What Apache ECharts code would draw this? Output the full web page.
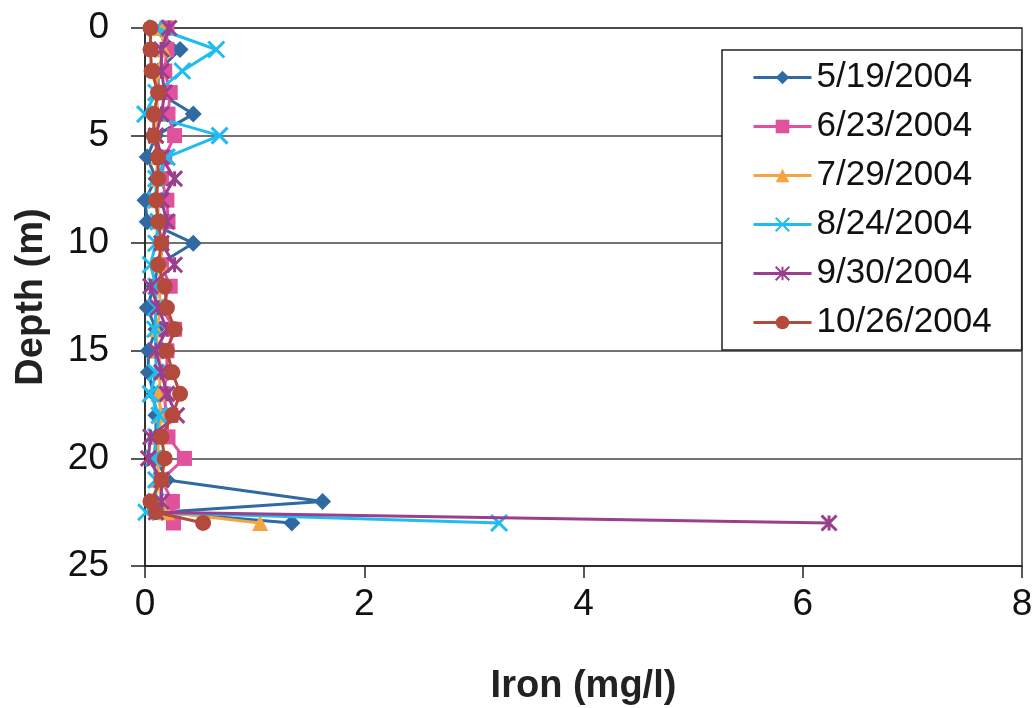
<!DOCTYPE html>
<html><head><meta charset="utf-8">
<script src="https://cdn.jsdelivr.net/npm/echarts@6/dist/echarts.min.js"></script>
<style>html,body{margin:0;padding:0;background:#fff}#c{width:1036px;height:708px}</style>
</head><body><div id="c"></div>
<script>
const depths = [0,1,2,3,4,5,6,7,8,9,10,11,12,13,14,15,16,17,18,19,20,21,22,22.5,23];
const seriesNames = ['5/19/2004','6/23/2004','7/29/2004','8/24/2004','9/30/2004','10/26/2004'];
const iron0519 = [0.05,0.32,0.12,0.12,0.44,0.1,0.02,0.1,0.0,0.02,0.44,0.12,0.08,0.02,0.1,0.03,0.03,0.08,0.1,0.1,0.1,0.2,1.62,0.15,1.34];
const iron0623 = [0.2,0.2,0.18,0.23,0.21,0.27,0.18,0.15,0.2,0.21,0.15,0.15,0.23,0.15,0.27,0.2,0.2,0.17,0.2,0.21,0.36,0.15,0.25,0.22,0.26];
const iron0729 = [0.15,0.17,0.12,0.1,0.12,0.1,0.12,0.1,0.12,0.12,0.15,0.15,0.12,0.15,0.1,0.12,0.15,0.12,0.15,0.12,0.12,0.12,0.15,0.2,1.05];
const iron0824 = [0.1,0.65,0.34,0.1,0.0,0.68,0.2,0.1,0.1,0.12,0.1,0.05,0.1,0.1,0.09,0.1,0.1,0.05,0.13,0.1,0.08,0.1,0.1,0.01,3.23];
const iron0930 = [0.22,0.15,0.15,0.18,0.15,0.1,0.15,0.27,0.15,0.2,0.15,0.27,0.05,0.12,0.2,0.1,0.15,0.2,0.29,0.05,0.03,0.15,0.15,0.1,6.24];
const iron1026 = [0.05,0.05,0.06,0.12,0.08,0.08,0.12,0.12,0.1,0.12,0.15,0.12,0.18,0.2,0.27,0.2,0.25,0.32,0.25,0.15,0.18,0.15,0.05,0.1,0.53];
const xTicks = [0,2,4,6,8];
const yTicks = [0,5,10,15,20,25];

const allValues = [iron0519,iron0623,iron0729,iron0824,iron0930,iron1026];
const colors = ['#2F6AA3','#E0529C','#F5A540','#1FBDEF','#9A3F8E','#B44A3C'];
const symbols = ['diamond','rect','triangle','path://M0,0L10,10M10,0L0,10','path://M0,0L10,10M10,0L0,10M5,0L5,10','circle'];
const sizes = [17,15,16,16,15,16];

const font = 'Liberation Sans';
const series = seriesNames.map((n,i)=>({
  name:n, type:'line',
  data: depths.map((d,k)=>[allValues[i][k], d]),
  symbol: symbols[i], symbolSize: sizes[i],
  lineStyle:{color:colors[i], width:3},
  itemStyle:{color:colors[i], borderColor:colors[i], borderWidth: i===3||i===4 ? 3 : 0},
  z: 2+i
}));

const chart = echarts.init(document.getElementById('c'));
chart.setOption({
  animation:false,
  backgroundColor:'#fff',
  grid:{left:145,right:14,top:28,bottom:142,show:true,borderColor:'#333',borderWidth:1.5,containLabel:false,outerBoundsMode:'none'},
  xAxis:{type:'value',min:xTicks[0],max:xTicks[xTicks.length-1],interval:2,position:'bottom',
    name:'Iron (mg/l)',nameLocation:'middle',nameGap:102,
    nameTextStyle:{fontFamily:font,fontWeight:'bold',fontSize:38,color:'#222'},
    axisLine:{show:true,onZero:false,lineStyle:{color:'#222',width:1.5}},
    axisTick:{show:true,inside:false,length:12,lineStyle:{color:'#222',width:1.5}},
    axisLabel:{fontFamily:font,fontSize:37,color:'#111',margin:20},
    splitLine:{show:false}},
  yAxis:{type:'value',inverse:true,min:yTicks[0],max:yTicks[yTicks.length-1],interval:5,
    name:'Depth (m)',nameLocation:'middle',nameGap:94,nameRotate:90,
    nameTextStyle:{fontFamily:font,fontWeight:'bold',fontSize:38,color:'#222'},
    axisLine:{show:true,onZero:false,lineStyle:{color:'#222',width:1.5}},
    axisTick:{show:true,inside:false,length:14,lineStyle:{color:'#222',width:1.5}},
    axisLabel:{fontFamily:font,fontSize:37,color:'#111',margin:36},
    splitLine:{show:true,lineStyle:{color:'#444',width:1.5}}},
  legend:{orient:'vertical',left:722,top:50,
    padding:[10,30,10,30],itemGap:14,itemWidth:58,itemHeight:17,
    lineStyle:{width:3},
    borderColor:'#222',borderWidth:1.5,backgroundColor:'#fff',
    textStyle:{fontFamily:font,fontSize:35,color:'#111',lineHeight:34},
    data:seriesNames},
  series: series
});
</script></body></html>
